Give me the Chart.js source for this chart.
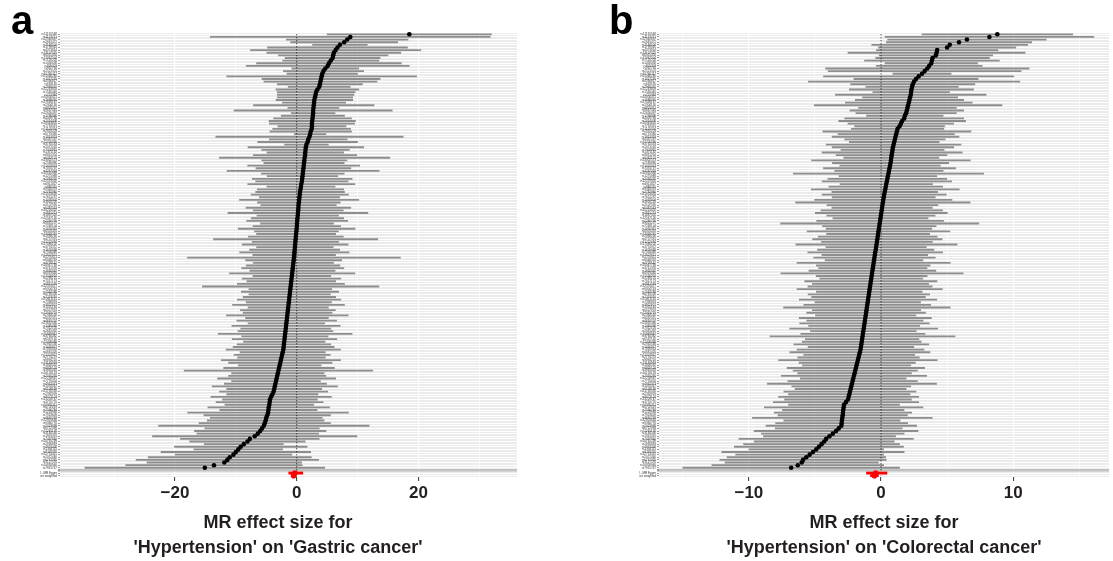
<!DOCTYPE html>
<html><head><meta charset="utf-8">
<script src="https://cdn.jsdelivr.net/npm/chart.js@4.4.1/dist/chart.umd.min.js"></script>
<style>
html,body{margin:0;padding:0;background:#fff;}
#wrap{position:relative;width:1113px;height:561px;overflow:hidden;background:#fff;}
canvas{position:absolute;top:0;}
#ca{left:0;} #cb{left:556px;}
.lab{position:absolute;top:0;font-family:"Liberation Sans",Arial,sans-serif;font-weight:bold;font-size:40px;line-height:1;color:#000;}
</style></head><body>
<div id="wrap">
<canvas id="ca" width="556" height="561"></canvas>
<canvas id="cb" width="557" height="561"></canvas>
<div class="lab" style="left:11px">a</div>
<div class="lab" style="left:609px">b</div>
</div>
<script>
// ---------- data ----------
const SNPS = [
'rs11191548','rs1173771','rs12940887','rs2681472','rs3184504','rs1799945','rs4373814','rs13107325','rs6015450','rs17367504',
'rs7129220','rs1458038','rs805303','rs932764','rs2521501','rs10760117','rs11066280','rs1327235','rs4590817','rs633185',
'rs2969070','rs12243859','rs1530440','rs751984','rs10850411','rs1689040','rs17638167','rs2304130','rs6825911','rs9687065',
'rs12656497','rs1799998','rs4409766','rs2014408','rs10943605','rs7733331','rs11105354','rs2891203','rs6779380','rs1813353',
'rs4387287','rs12705390','rs3735533','rs2071518','rs7302981','rs1371182','rs9815354','rs6442101','rs13002573','rs2586886',
'rs11024074','rs7070797','rs4247374','rs10926988','rs1275988','rs2493292','rs12579302','rs6911827','rs880315','rs9349379',
'rs2782980','rs11953630','rs7651237','rs1078004','rs3918226','rs2107595','rs6487543','rs10224002','rs4815213','rs1887320',
'rs12567136','rs2240736','rs9825257','rs7248104','rs1050331','rs6501455','rs13359291','rs2898290','rs4757391','rs11222084',
'rs17080102','rs3774372','rs1620668','rs7500448','rs12627651','rs2270611','rs8068318','rs4728142','rs10947789','rs3741378',
'rs1926032','rs6919440','rs11556924','rs2289125','rs7017173','rs4841569','rs12374077','rs9304743','rs1563788','rs6785358',
'rs2253310','rs10411161','rs7398833','rs3822857','rs1055144','rs6557874','rs12919719','rs2384550','rs8032315','rs4691707',
'rs11632436','rs1446468','rs7312105','rs2681492','rs10849947','rs3760382','rs6597192','rs12408468','rs2932538','rs1016977',
'rs7895833','rs4681426','rs11207977','rs2774279','rs9894220','rs13149993','rs1800562','rs6826124','rs3865418','rs10159133',
'rs2076260','rs12258967','rs7776054','rs4932373','rs1474347','rs6108168','rs11718350','rs2392929','rs8071124','rs13209747',
'rs3770770','rs10995311','rs6702619','rs2590784','rs1229984','rs7923609','rs4660293','rs12801636','rs9366778','rs2023938',
'rs6712094','rs11245178','rs3184536','rs1991391','rs7437940','rs10765299','rs2836883','rs4974408','rs1394115','rs8118376',
'rs12713415','rs2072446','rs6747335','rs3127576','rs10858946','rs7915747'
];
const METHODS = ['', 'All - MR Egger', 'All - Inverse variance weighted'];

// Panel a: 'Hypertension' on 'Gastric cancer' (SNP estimate and 95% CI half-width)
const A_EST = [
18.5,8.8,8.3,7.8,7.1,6.7,6.4,6.1,6.0,5.9,
5.6,5.3,5.1,4.7,4.4,4.2,4.1,4.0,3.9,3.8,
3.7,3.4,3.2,3.1,3.0,2.9,2.85,2.8,2.75,2.7,
2.7,2.65,2.6,2.55,2.5,2.5,2.45,2.3,2.2,2.1,
1.9,1.8,1.6,1.5,1.45,1.4,1.38,1.3,1.25,1.2,
1.15,1.1,1.05,1.0,0.95,0.9,0.85,0.75,0.7,0.62,
0.55,0.5,0.45,0.4,0.35,0.3,0.28,0.25,0.2,0.17,
0.12,0.08,0.05,0.02,-0.02,-0.05,-0.1,-0.14,-0.18,-0.22,
-0.26,-0.3,-0.34,-0.38,-0.42,-0.46,-0.5,-0.55,-0.6,-0.65,
-0.7,-0.75,-0.8,-0.85,-0.9,-0.95,-1.0,-1.05,-1.1,-1.15,
-1.2,-1.25,-1.3,-1.35,-1.4,-1.45,-1.5,-1.55,-1.6,-1.65,
-1.7,-1.75,-1.8,-1.85,-1.9,-1.95,-2.0,-2.05,-2.1,-2.15,
-2.2,-2.3,-2.4,-2.5,-2.6,-2.7,-2.8,-2.9,-3.0,-3.1,
-3.2,-3.3,-3.4,-3.5,-3.6,-3.7,-3.8,-4.0,-4.2,
-4.4,-4.45,-4.5,-4.6,-4.65,-4.7,-4.85,-5.0,-5.1,-5.25,
-5.4,-5.7,-6.0,-6.4,-6.9,-7.7,-8.1,-8.7,-9.2,-9.6,
-10.0,-10.4,-11.0,-11.4,-11.9,-13.6,-15.1
];
const A_HW = [
13.5,23.0,10.0,8.8,4.5,11.5,14.0,11.0,9.0,7.8,
7.9,11.9,13.4,5.5,6.6,5.8,15.6,9.7,9.3,7.0,
5.1,6.8,6.4,6.3,6.2,6.3,5.2,9.9,4.2,13.0,
3.6,5.2,6.4,7.1,7.0,5.6,6.4,6.7,2.6,15.4,
6.4,8.2,3.6,
9.5,7.2,6.3,8.5,14.0,7.0,6.6,9.2,7.8,12.5,6.8,5.8,8.2,7.6,8.8,5.6,7.1,
7.3,8.0,6.6,9.8,6.8,6.2,8.6,7.4,11.5,6.7,
7.6,8.3,6.0,7.2,9.6,6.9,6.5,7.8,13.5,7.1,
8.7,6.3,7.4,9.0,6.8,17.5,7.9,6.6,7.7,8.4,
7.0,10.3,6.4,8.1,7.3,8.8,14.5,6.8,8.0,6.7,
7.6,8.5,7.0,9.2,6.6,7.8,7.3,10.0,6.8,8.2,
6.3,8.9,7.4,7.8,11.0,7.1,8.6,6.7,7.7,8.3,
9.4,7.0,7.9,7.2,9.8,8.5,6.8,9.1,15.5,7.6,
8.0,9.7,7.3,8.4,10.3,7.8,8.9,7.5,9.9,
7.8,8.8,7.3,10.0,8.0,13.2,10.4,9.2,9.6,10.8,
17.3,9.4,10.8,10.0,16.8,11.4,9.5,6.5,10.9,7.3,
12.3,9.6,13.4,15.0,12.7,14.5,19.7
];
const A_ALL_EST = [null, -0.3, -0.5];
const A_ALL_LO  = [null, -1.3, -0.9];
const A_ALL_HI  = [null, 1.0, -0.1];

// Panel b: 'Hypertension' on 'Colorectal cancer'
const B_EST = [
8.8,8.2,6.5,5.9,5.2,5.0,4.25,4.2,4.15,3.9,
3.85,3.8,3.65,3.5,3.3,3.1,2.85,2.65,2.5,2.4,
2.35,2.3,2.28,2.25,2.2,2.15,2.1,2.05,2.0,1.95,
1.9,1.8,1.75,1.6,1.5,1.4,1.25,1.2,1.15,1.1,
1.05,1.0,0.95,0.9,0.87,0.84,0.8,0.78,0.75,0.72,
0.68,0.64,0.6,0.56,0.52,0.48,0.44,0.4,0.36,0.32,
0.28,0.24,0.2,0.17,0.14,0.11,0.08,0.05,0.02,-0.01,
-0.04,-0.07,-0.1,-0.13,-0.16,-0.19,-0.22,-0.25,-0.28,-0.31,
-0.34,-0.37,-0.4,-0.44,-0.47,-0.5,-0.53,-0.56,-0.59,-0.62,
-0.65,-0.68,-0.71,-0.74,-0.77,-0.8,-0.83,-0.86,-0.89,-0.92,
-0.95,-0.98,-1.01,-1.04,-1.07,-1.1,-1.13,-1.16,-1.19,-1.22,
-1.25,-1.28,-1.31,-1.34,-1.37,-1.4,-1.43,-1.46,-1.49,-1.52,
-1.55,-1.6,-1.65,-1.7,-1.75,-1.8,-1.85,-1.9,-1.95,-2.0,
-2.05,-2.1,-2.15,-2.2,-2.25,-2.3,-2.35,-2.4,-2.45,-2.5,
-2.65,-2.8,-2.83,-2.86,-2.88,-2.9,-2.93,-2.96,-2.98,-3.0,
-3.2,-3.4,-3.65,-3.9,-4.15,-4.3,-4.5,-4.7,-4.9,-5.15,
-5.4,-5.65,-5.9,-6.0,-6.3,-6.8
];
const B_HW = [
5.7,7.9,6.0,5.5,5.9,5.2,4.6,6.7,4.3,4.3,
5.1,3.5,4.0,7.7,7.3,2.2,7.2,4.7,8.0,4.7,
3.5,4.7,2.9,5.7,3.6,4.1,4.8,7.1,3.7,4.3,
3.8,2.9,4.5,4.8,4.0,3.4,3.5,5.6,4.4,4.8,
3.8,3.4,5.1,
4.6,3.9,5.3,4.2,3.6,6.0,4.4,3.8,5.0,4.1,7.2,3.7,4.5,4.9,3.5,4.3,5.6,
4.0,4.7,3.9,5.2,6.6,4.2,3.8,4.6,5.0,4.1,
3.6,4.8,7.5,4.3,4.0,5.4,3.9,4.5,4.9,4.2,
6.1,3.8,4.4,5.1,4.0,4.6,3.7,5.8,4.3,4.1,
4.8,6.9,4.2,3.9,5.0,4.4,4.7,5.5,4.0,4.6,
4.3,5.2,4.0,4.8,6.3,4.1,4.5,3.8,5.0,4.4,
4.9,4.2,5.6,4.0,4.7,7.0,4.3,4.5,5.1,4.0,
4.8,5.3,4.2,4.6,6.0,4.4,4.1,5.2,4.7,4.3,
5.5,4.0,4.9,6.4,4.5,4.2,5.0,4.6,5.3,
4.8,5.5,4.2,6.0,4.6,5.2,4.9,6.8,4.4,5.0,
5.7,4.8,6.2,5.4,5.0,6.6,5.3,5.9,6.4,5.1,
6.9,5.6,6.0,6.3,5.8,6.5,8.2
];
const B_ALL_EST = [null, -0.4, -0.5];
const B_ALL_LO  = [null, -1.1, -0.8];
const B_ALL_HI  = [null, 0.45, -0.2];

const A_TICKS = [-30,-20,-10,0,10,20,30];
const A_MAJOR = [-20,0,20];
const B_TICKS = [-15,-10,-5,0,5,10,15];
const B_MAJOR = [-10,0,10];
const A_TITLE = ['MR effect size for', "'Hypertension' on 'Gastric cancer'"];
const B_TITLE = ['MR effect size for', "'Hypertension' on 'Colorectal cancer'"];

// ---------- chart ----------
const TXT = '#231f20';
const FONT = '"Liberation Sans", Arial, sans-serif';
const fmt = v => v < 0 ? '\u2212' + Math.abs(v) : String(v);

const panelBg = {
  id: 'panelBg',
  beforeDraw(chart) {
    const {ctx, chartArea: a} = chart;
    ctx.save(); ctx.fillStyle = '#ebebeb';
    ctx.fillRect(a.left, a.top, a.width, a.height);
    ctx.restore();
  }
};
// two-line x-axis title, centred at a given canvas x
const xTitle = {
  id: 'xTitle',
  afterDraw(chart, args, opts) {
    const {ctx} = chart;
    ctx.save();
    ctx.fillStyle = TXT;
    ctx.font = 'bold 18px ' + FONT;
    ctx.textAlign = 'center';
    ctx.textBaseline = 'middle';
    opts.lines.forEach((t, i) => ctx.fillText(t, opts.cx, opts.y0 + i * 25.5));
    ctx.restore();
  }
};

function build(id, est, hw, allEst, allLo, allHi, xmin, xmax, ticks, major, title, padL, padR, titleCx) {
  const n = est.length;
  const labels = SNPS.slice(0, n).concat(METHODS);
  const total = labels.length;
  const pad = k => new Array(k).fill(null);
  const ciBars = est.map((e, i) => [e - hw[i], e + hw[i]]).concat(pad(METHODS.length));
  const pts = est.concat(pad(METHODS.length));
  const redPts = pad(n).concat(allEst);
  const redBars = pad(n).concat(allEst.map((e, i) => e === null ? null : [allLo[i], allHi[i]]));
  const zero = new Array(total).fill(0);
  return new Chart(document.getElementById(id), {
    type: 'bar',
    data: {
      labels,
      datasets: [
        {type: 'line', data: pts, showLine: false, pointRadius: 2.3, pointHoverRadius: 2.3,
         pointBackgroundColor: '#000', pointBorderColor: '#000', pointBorderWidth: 0},
        {type: 'line', data: redPts, showLine: false, pointRadius: 2.8,
         pointBackgroundColor: '#ff0000', pointBorderColor: '#ff0000', pointBorderWidth: 0},
        {type: 'bar', data: redBars, grouped: false, barThickness: 2.2, backgroundColor: '#ff0000'},
        {type: 'line', data: zero, borderColor: '#000', borderWidth: 1, borderDash: [1, 2],
         pointRadius: 0, fill: false},
        {type: 'bar', data: ciBars, grouped: false, barThickness: 1.2, backgroundColor: '#8e8e8e'}
      ]
    },
    plugins: [panelBg, xTitle],
    options: {
      responsive: false, animation: false, indexAxis: 'y',
      layout: {padding: {left: padL, right: padR, top: 33, bottom: 0}},
      plugins: {legend: {display: false}, tooltip: {enabled: false},
                xTitle: {lines: title, cx: titleCx, y0: 523}},
      scales: {
        x: {
          type: 'linear', min: xmin, max: xmax,
          afterBuildTicks: s => { s.ticks = ticks.map(v => ({value: v})); },
          afterFit: s => { s.height = 84; },
          border: {display: false},
          grid: {
            color: '#ffffff',
            lineWidth: c => (c.tick && major.includes(c.tick.value)) ? 1.2 : 0.7,
            tickLength: 4, tickWidth: 1,
            tickColor: c => (c.tick && major.includes(c.tick.value)) ? '#333333' : 'rgba(0,0,0,0)'
          },
          ticks: {autoSkip: false, maxRotation: 0, padding: 2, color: TXT,
                  font: {family: FONT, size: 17, weight: 'bold'},
                  callback: v => major.includes(v) ? fmt(v) : ''},
          title: {display: false}
        },
        y: {
          type: 'category', offset: true,
          afterFit: s => { s.width = 20; },
          border: {display: false},
          grid: {
            offset: false,
            color: c => c.index === n ? '#c2c2c2' : '#ffffff',
            lineWidth: c => c.index === n ? 2.6 : 1,
            tickLength: 2, tickColor: '#9a9a9a'
          },
          ticks: {autoSkip: false, padding: 1, color: '#333333',
                  font: {family: FONT, size: 3}}
        }
      }
    }
  });
}

build('ca', A_EST, A_HW, A_ALL_EST, A_ALL_LO, A_ALL_HI, -38.9, 36.2, A_TICKS, A_MAJOR, A_TITLE, 40, 39, 278);
build('cb', B_EST, B_HW, B_ALL_EST, B_ALL_LO, B_ALL_HI, -16.8, 17.25, B_TICKS, B_MAJOR, B_TITLE, 83, 3, 884 - 556);
</script>
</body></html>
